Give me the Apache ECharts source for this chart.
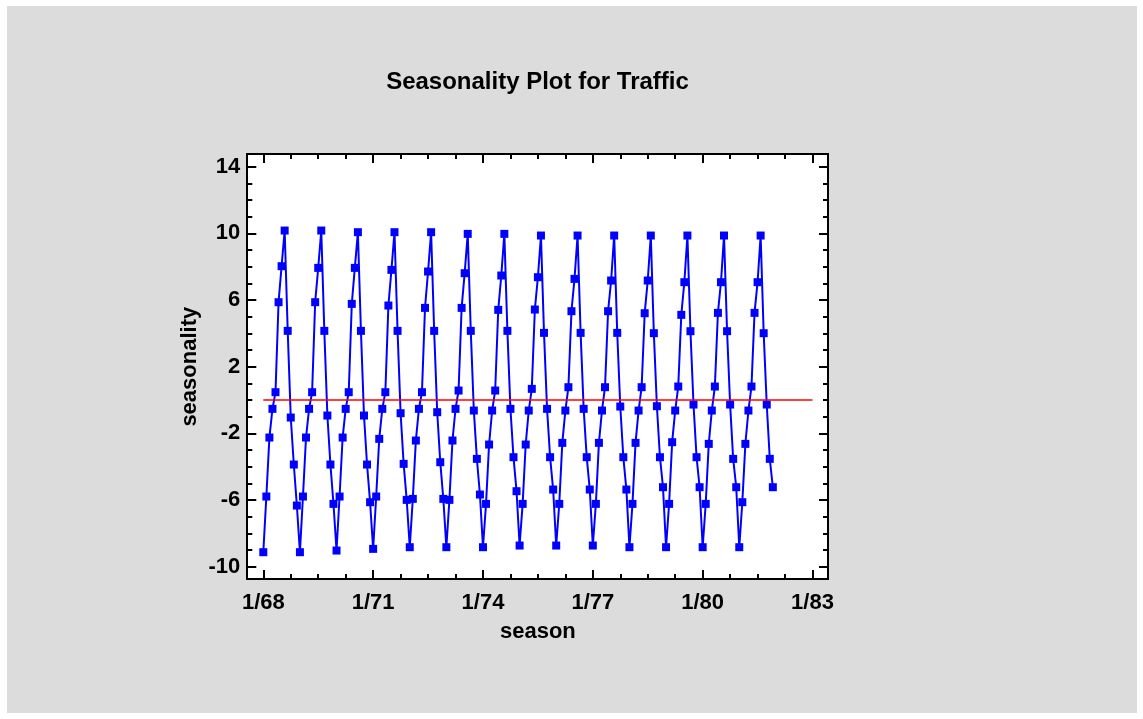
<!DOCTYPE html>
<html>
<head>
<meta charset="utf-8">
<script src="https://cdn.jsdelivr.net/npm/echarts@6/dist/echarts.min.js"></script>
<style>
  html, body { margin: 0; padding: 0; background: #ffffff; }
  #bg { position: absolute; left: 7px; top: 6px; width: 1130px; height: 707px; background: #dcdcdc; }
  #chart { position: absolute; left: 0; top: 0; width: 1143px; height: 719px; }
</style>
</head>
<body>
<div id="bg"></div>
<div id="chart"></div>
<script>
// ---- data ----
const chartTitle = 'Seasonality Plot for Traffic';
const xName = 'season';
const yName = 'seasonality';
const startYear = 68;            // first observation: January 1968, monthly
const xTickLabels = ['1/68', '1/71', '1/74', '1/77', '1/80', '1/83'];
const xTickStepMonths = 36;
const yTickLabels = [-10, -6, -2, 2, 6, 10, 14];
const zeroLevel = 0;
const zeroLineMonths = [0, 180];  // reference line spans 1/68 .. 1/83

// monthly seasonal indices, Jan..Dec for each year 1968..1981
const seasonality = [
  /*1968*/ -9.13, -5.79, -2.25, -0.53, 0.47, 5.87, 8.03, 10.17, 4.15, -1.05, -3.87, -6.33,
  /*1969*/ -9.13, -5.79, -2.25, -0.53, 0.47, 5.87, 7.93, 10.17, 4.15, -0.93, -3.87, -6.23,
  /*1970*/ -9.03, -5.79, -2.25, -0.53, 0.47, 5.77, 7.93, 10.07, 4.15, -0.93, -3.87, -6.13,
  /*1971*/ -8.93, -5.79, -2.33, -0.53, 0.47, 5.67, 7.81, 10.07, 4.15, -0.79, -3.83, -5.99,
  /*1972*/ -8.83, -5.93, -2.43, -0.53, 0.47, 5.53, 7.71, 10.07, 4.15, -0.73, -3.73, -5.93,
  /*1973*/ -8.83, -5.99, -2.43, -0.53, 0.57, 5.53, 7.61, 9.97, 4.15, -0.63, -3.53, -5.67,
  /*1974*/ -8.83, -6.23, -2.67, -0.63, 0.57, 5.41, 7.47, 9.97, 4.15, -0.53, -3.43, -5.47,
  /*1975*/ -8.73, -6.23, -2.67, -0.63, 0.67, 5.43, 7.37, 9.87, 4.03, -0.53, -3.43, -5.37,
  /*1976*/ -8.73, -6.23, -2.57, -0.63, 0.77, 5.33, 7.27, 9.87, 4.03, -0.53, -3.43, -5.37,
  /*1977*/ -8.73, -6.23, -2.57, -0.63, 0.77, 5.33, 7.17, 9.87, 4.03, -0.39, -3.43, -5.37,
  /*1978*/ -8.83, -6.23, -2.57, -0.63, 0.77, 5.21, 7.17, 9.87, 4.01, -0.37, -3.43, -5.23,
  /*1979*/ -8.83, -6.23, -2.53, -0.63, 0.81, 5.11, 7.07, 9.87, 4.13, -0.27, -3.43, -5.23,
  /*1980*/ -8.83, -6.23, -2.63, -0.63, 0.81, 5.23, 7.07, 9.87, 4.13, -0.27, -3.53, -5.23,
  /*1981*/ -8.83, -6.13, -2.63, -0.63, 0.81, 5.23, 7.07, 9.87, 4.01, -0.27, -3.53, -5.23
];

// ---- chart ----
const FONT = "'Liberation Sans', Arial, sans-serif";
const chart = echarts.init(document.getElementById('chart'), null, { renderer: 'canvas' });

const seriesData = seasonality.map((v, i) => [i, v]);
const zeroData = zeroLineMonths.map(m => [m, zeroLevel]);

const tickStyle = { color: '#000', width: 2 };
const commonX = {
  gridIndex: 1, type: 'value',
  min: 0, max: xTickStepMonths * (xTickLabels.length - 1), interval: xTickStepMonths,
  axisLine: { show: false, onZero: false },
  axisTick: { show: true, inside: true, length: 9, lineStyle: tickStyle },
  minorTick: { show: true, splitNumber: 4, length: 5, lineStyle: tickStyle },
  splitLine: { show: false }, minorSplitLine: { show: false }
};
const commonY = {
  gridIndex: 1, type: 'value',
  min: yTickLabels[0], max: yTickLabels[yTickLabels.length - 1], interval: yTickLabels[1] - yTickLabels[0],
  axisLine: { show: false, onZero: false },
  axisTick: { show: true, inside: true, length: 9, lineStyle: tickStyle },
  minorTick: { show: true, splitNumber: 4, length: 5, lineStyle: tickStyle },
  splitLine: { show: false }, minorSplitLine: { show: false }
};

const option = {
  animation: false,
  backgroundColor: 'transparent',
  graphic: [{
    type: 'text', x: 537.5, y: 82,
    style: { text: chartTitle, align: 'center', verticalAlign: 'middle',
             font: 'bold 24px ' + FONT, fill: '#000' }
  }],
  grid: [
    { left: 247, top: 154, width: 581, height: 425, show: true, z: -1,
      backgroundColor: '#ffffff', borderColor: '#000000', borderWidth: 2 },
    { left: 263.3, top: 166.7, width: 549.2, height: 400, show: false }
  ],
  xAxis: [
    { gridIndex: 0, type: 'value', show: false, min: 0, max: 1 },
    Object.assign({}, commonX, {
      position: 'bottom', offset: 12.3,
      axisLabel: { show: true, margin: 13, color: '#000', fontFamily: FONT, fontWeight: 'bold', fontSize: 22,
                   formatter: v => xTickLabels[Math.round(v / xTickStepMonths)] },
      name: xName, nameLocation: 'middle', nameGap: 42,
      nameTextStyle: { color: '#000', fontFamily: FONT, fontWeight: 'bold', fontSize: 22 }
    }),
    Object.assign({}, commonX, { position: 'top', offset: 12.7, axisLabel: { show: false } })
  ],
  yAxis: [
    { gridIndex: 0, type: 'value', show: false, min: 0, max: 1 },
    Object.assign({}, commonY, {
      position: 'left', offset: 16,
      axisLabel: { show: true, margin: 7, color: '#000', fontFamily: FONT, fontWeight: 'bold', fontSize: 22 },
      name: yName, nameLocation: 'middle', nameGap: 46, nameRotate: 90,
      nameTextStyle: { color: '#000', fontFamily: FONT, fontWeight: 'bold', fontSize: 22 }
    }),
    Object.assign({}, commonY, { position: 'right', offset: 15.5, axisLabel: { show: false } })
  ],
  series: [
    {
      type: 'line', xAxisIndex: 1, yAxisIndex: 1, data: seriesData,
      symbol: 'rect', symbolSize: 8, showSymbol: true,
      itemStyle: { color: '#0000ff' },
      lineStyle: { color: '#0000ff', width: 2 },
      z: 2
    },
    {
      type: 'line', xAxisIndex: 1, yAxisIndex: 1, data: zeroData,
      symbol: 'none', lineStyle: { color: '#ff0000', width: 1.5 }, z: 3
    }
  ]
};
chart.setOption(option);
</script>
</body>
</html>
